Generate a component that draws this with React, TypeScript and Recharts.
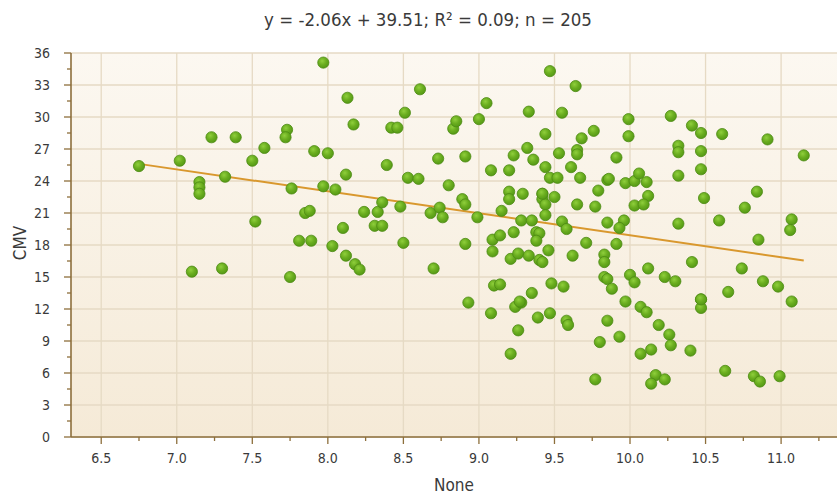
import React from "react";
import { ScatterChart, Scatter, XAxis, YAxis, CartesianGrid } from "recharts";

// Observations (x = None, y = CMV)
const xValues = [
  6.75, 7.02, 7.23, 7.39, 7.15, 7.15, 7.15, 7.32, 7.5, 7.58,
  7.73, 7.72, 7.97, 8.13, 8.17, 7.91, 8.0, 8.12, 7.76, 7.97,
  8.05, 7.85, 7.88, 7.52, 8.1, 7.81, 7.89, 7.1, 7.3, 7.75,
  8.03, 8.12, 8.18, 8.21, 8.24, 8.33, 8.31, 8.36, 8.39, 8.36,
  8.42, 8.46, 8.51, 8.61, 8.48, 8.53, 8.6, 8.73, 8.8, 8.68,
  8.74, 8.76, 8.83, 8.85, 8.91, 8.89, 8.91, 8.99, 9.0, 9.05,
  9.08, 9.15, 9.2, 9.23, 9.2, 9.2, 9.29, 9.28, 9.35, 9.32,
  9.33, 9.36, 9.44, 9.44, 9.47, 9.47, 9.52, 9.42, 9.42, 9.44,
  9.5, 9.44, 9.38, 9.4, 9.55, 9.53, 9.55, 9.58, 9.64, 9.68,
  9.76, 9.65, 9.65, 9.61, 9.67, 9.65, 9.79, 9.77, 9.91, 9.85,
  9.86, 9.85, 9.96, 9.93, 9.99, 9.99, 9.97, 10.03, 10.06, 10.11,
  10.12, 10.03, 10.09, 10.27, 10.41, 10.47, 10.61, 10.91, 10.32, 10.32,
  10.47, 11.15, 10.47, 10.32, 10.49, 10.84, 10.76, 10.32, 10.59, 11.07,
  11.06, 10.85, 10.12, 10.23, 10.3, 10.41, 10.47, 10.47, 10.65, 10.74,
  10.88, 10.98, 11.07, 10.07, 10.11, 10.19, 10.26, 10.27, 10.14, 10.07,
  10.4, 10.63, 10.17, 10.23, 10.14, 10.82, 10.86, 10.99, 8.5, 8.91,
  8.7, 8.93, 9.08, 9.09, 9.14, 9.09, 9.23, 9.21, 9.26, 9.33,
  9.38, 9.46, 9.4, 9.42, 9.1, 9.14, 9.35, 9.24, 9.28, 9.48,
  9.56, 9.39, 9.47, 9.26, 9.58, 9.59, 9.21, 9.62, 9.71, 9.83,
  9.83, 9.91, 9.83, 9.85, 9.88, 9.97, 9.85, 9.8, 9.93, 9.77,
  10.0, 10.03, 9.27, 9.42, 10.47,
];
const yValues = [
  25.4, 25.9, 28.1, 28.1, 23.9, 23.4, 22.8, 24.4, 25.9, 27.1,
  28.8, 28.1, 35.1, 31.8, 29.3, 26.8, 26.6, 24.6, 23.3, 23.5,
  23.2, 21.0, 21.2, 20.2, 19.6, 18.4, 18.4, 15.5, 15.8, 15.0,
  17.9, 17.0, 16.2, 15.7, 21.1, 21.1, 19.8, 19.8, 25.5, 22.0,
  29.0, 29.0, 30.4, 32.6, 21.6, 24.3, 24.2, 26.1, 23.6, 21.0,
  21.5, 20.6, 28.9, 29.6, 26.3, 22.3, 21.8, 20.6, 29.8, 31.3,
  25.0, 21.2, 25.0, 26.4, 23.0, 22.3, 22.8, 20.3, 20.3, 27.1,
  30.5, 26.0, 25.3, 28.4, 34.3, 24.3, 24.3, 22.8, 22.3, 21.8,
  22.5, 20.8, 19.2, 19.1, 30.4, 26.6, 20.2, 19.5, 32.9, 28.0,
  28.7, 26.9, 26.5, 25.3, 24.3, 21.8, 23.1, 21.6, 26.2, 24.1,
  24.2, 20.1, 20.3, 19.6, 29.8, 28.2, 23.8, 24.0, 24.7, 23.9,
  22.6, 21.7, 21.8, 30.1, 29.2, 28.5, 28.4, 27.9, 27.3, 26.7,
  26.8, 26.4, 25.1, 24.5, 22.4, 23.0, 21.5, 20.0, 20.3, 20.4,
  19.4, 18.5, 15.8, 15.0, 14.6, 16.4, 12.9, 12.1, 13.6, 15.8,
  14.6, 14.1, 12.7, 12.2, 11.7, 10.5, 9.6, 8.6, 8.2, 7.8,
  8.1, 6.2, 5.8, 5.4, 5.0, 5.7, 5.2, 5.7, 18.2, 18.1,
  15.8, 12.6, 11.6, 18.5, 18.9, 17.4, 19.2, 16.7, 17.2, 17.0,
  18.4, 17.5, 16.6, 16.4, 14.2, 14.3, 13.5, 12.2, 12.6, 14.4,
  14.1, 11.2, 11.6, 10.0, 10.9, 10.5, 7.8, 17.0, 18.2, 17.1,
  16.4, 18.1, 15.0, 14.8, 13.9, 12.7, 10.9, 8.9, 9.4, 5.4,
  15.2, 14.5, 12.7, 22.8, 12.9,
];

// Fitted line: y = -2.06x + 39.51, drawn across the observed x range
const slope = -2.06;
const intercept = 39.51;
const fitRange = [6.75, 11.15];

const xMajorTicks = [6.5, 7.0, 7.5, 8.0, 8.5, 9.0, 9.5, 10.0, 10.5, 11.0];
const xMinorTicks = [6.75, 7.25, 7.75, 8.25, 8.75, 9.25, 9.75, 10.25, 10.75, 11.25];
const yMajorTicks = [0, 3, 6, 9, 12, 15, 18, 21, 24, 27, 30, 33, 36];
const yMinorTicks = [1.5, 4.5, 7.5, 10.5, 13.5, 16.5, 19.5, 22.5, 25.5, 28.5, 31.5, 34.5];

const points = xValues.map((x, i) => ({ x, y: yValues[i] }));
const fitLine = fitRange.map((x) => ({ x, y: slope * x + intercept }));

const FONT = "'DejaVu Sans Condensed', 'DejaVu Sans', sans-serif";
const AXIS = "#8d6f3c";
const GRID = "#e6dac4";
const TEXT = "#3a3a3a";

const YTick = ({ x, y, payload }: any) => {
  const major = payload.value % 3 === 0;
  return (
    <g>
      <line x1={x - (major ? 7 : 4)} x2={x} y1={y} y2={y} stroke={AXIS} strokeWidth={1.3} />
      {major && (
        <text x={x - 21} y={y} dy="0.36em" textAnchor="end" fontSize={14} fill={TEXT} fontFamily={FONT}>
          {payload.value}
        </text>
      )}
    </g>
  );
};

const XTick = ({ x, y, payload }: any) => {
  const major = Math.round(payload.value * 4) % 2 === 0;
  return (
    <g>
      <line x1={x} x2={x} y1={y} y2={y + (major ? 7 : 4)} stroke={AXIS} strokeWidth={1.3} />
      {major && (
        <text x={x} y={y + 21} dy="0.36em" textAnchor="middle" fontSize={14} fill={TEXT} fontFamily={FONT}>
          {payload.value.toFixed(1)}
        </text>
      )}
    </g>
  );
};

const Dot = ({ cx, cy }: any) => (
  <circle cx={cx} cy={cy} r={5.6} fill="url(#dotFill)" stroke="#4d8a13" strokeWidth={0.8} />
);

export default function App() {
  return (
    <div style={{ position: "absolute", left: 0, top: 0, width: 837, height: 500, background: "#fff" }}>
      <div
        style={{
          position: "absolute",
          left: 428,
          top: 9,
          transform: "translateX(-50%)",
          whiteSpace: "nowrap",
          fontFamily: FONT,
          fontSize: 18.5,
          lineHeight: "22px",
          color: TEXT,
        }}
      >
        y = -2.06x + 39.51; R² = 0.09; n = 205
      </div>
      <ScatterChart width={837} height={500} margin={{ top: 53, right: 0, bottom: 0, left: 0 }}>
        <defs>
          <linearGradient id="plotBg" x1="0" y1="0" x2="0" y2="1">
            <stop offset="0%" stopColor="#fcf8f1" />
            <stop offset="100%" stopColor="#f5ead7" />
          </linearGradient>
          <radialGradient id="dotFill" cx="40%" cy="35%" r="65%">
            <stop offset="0%" stopColor="#8fcf3c" />
            <stop offset="55%" stopColor="#6aad1f" />
            <stop offset="100%" stopColor="#559a16" />
          </radialGradient>
        </defs>
        <CartesianGrid
          fill="url(#plotBg)"
          stroke={GRID}
          strokeWidth={1.3}
          horizontalValues={yMajorTicks}
          verticalValues={xMajorTicks}
        />
        <XAxis
          type="number"
          dataKey="x"
          domain={[6.3, 11.37]}
          allowDataOverflow
          ticks={[...xMajorTicks, ...xMinorTicks].sort((a, b) => a - b)}
          interval={0}
          tick={<XTick />}
          tickLine={false}
          tickSize={0}
          tickMargin={0}
          height={63}
          axisLine={{ stroke: AXIS, strokeWidth: 1.6 }}
          label={{
            content: ({ viewBox }: any) => (
              <text
                x={viewBox.x + viewBox.width / 2}
                y={viewBox.y + 48}
                dy="0.36em"
                textAnchor="middle"
                fontSize={17}
                fill={TEXT}
                fontFamily={FONT}
              >
                None
              </text>
            ),
          }}
        />
        <YAxis
          type="number"
          dataKey="y"
          domain={[0, 36]}
          ticks={[...yMajorTicks, ...yMinorTicks].sort((a, b) => a - b)}
          interval={0}
          tick={<YTick />}
          tickLine={false}
          tickSize={0}
          tickMargin={0}
          width={71}
          axisLine={{ stroke: AXIS, strokeWidth: 1.6 }}
          label={{
            content: ({ viewBox }: any) => (
              <text
                x={viewBox.x + 20}
                y={viewBox.y + viewBox.height / 2 - 2}
                transform={`rotate(-90 ${viewBox.x + 20} ${viewBox.y + viewBox.height / 2 - 2})`}
                dy="0.36em"
                textAnchor="middle"
                fontSize={17}
                fill={TEXT}
                fontFamily={FONT}
              >
                CMV
              </text>
            ),
          }}
        />
        <Scatter
          data={fitLine}
          line={{ stroke: "#d9982e", strokeWidth: 2 }}
          shape={() => <g />}
          isAnimationActive={false}
        />
        <Scatter data={points} shape={<Dot />} isAnimationActive={false} />
      </ScatterChart>
    </div>
  );
}
